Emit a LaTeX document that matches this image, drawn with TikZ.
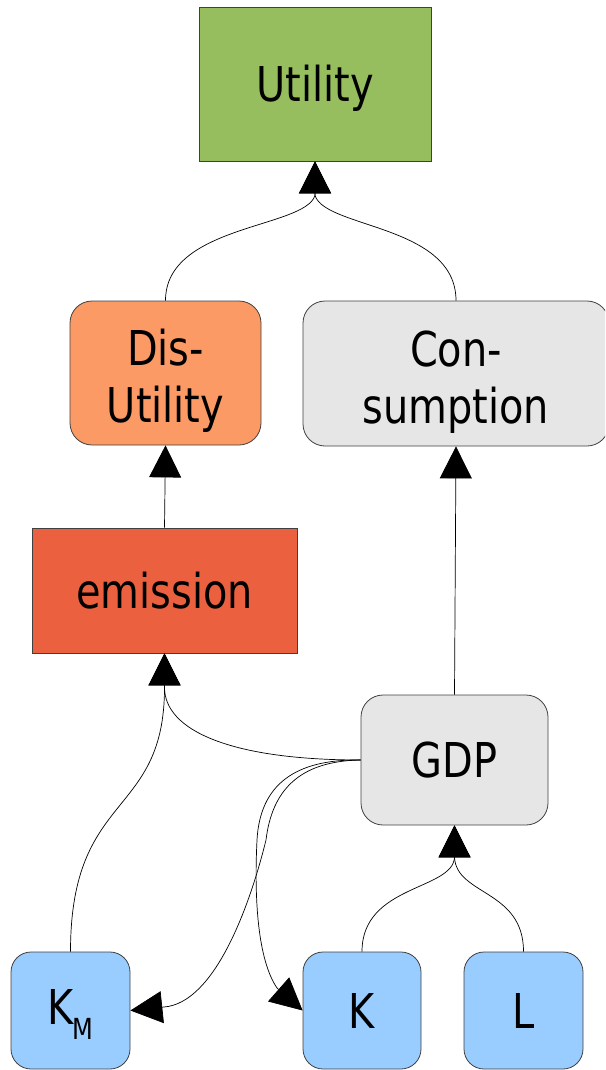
\documentclass[tikz,border=0pt]{standalone}
\usepackage{fontspec}
\setmainfont{DejaVu Sans}[FakeStretch=0.83]
\usetikzlibrary{arrows.meta,calc}
\definecolor{cgreen}{HTML}{97BE5E}
\definecolor{corange}{HTML}{FB9A65}
\definecolor{cred}{HTML}{EB613F}
\definecolor{cgray}{HTML}{E6E6E6}
\definecolor{cblue}{HTML}{99CCFF}
\newcommand{\toppad}{\rule{0pt}{52pt}}
\begin{document}
\begin{tikzpicture}[x=1pt,y=-1pt,
  box/.style={draw=black!75, line width=0.8pt, inner sep=0pt, align=center,
    font=\fontsize{48}{57}\selectfont},
  one/.style={text height=35pt, text depth=0pt},
  rbox/.style={box, rounded corners=22pt},
  wire/.style={line width=0.7pt},
  conn/.style={wire, -{Triangle[length=32pt,width=32pt]}}]
\useasboundingbox (0,0) rectangle (605,1070);
\clip (0,0) rectangle (605,1070);
% nodes
\node[box, one, fill=cgreen, minimum width=232pt, minimum height=154pt] (util) at (315,84) {Utility};
\node[rbox, fill=corange, minimum width=191pt, minimum height=144pt] (dis) at (165.5,373) {\toppad Dis-\\Utility};
\node[rbox, fill=cgray, minimum width=306pt, minimum height=145pt] (cons) at (456,373.5) {\toppad Con-\\sumption};
\node[box, one, fill=cred, minimum width=265pt, minimum height=125pt] (emis) at (164.5,590.5) {emission};
\node[rbox, one, fill=cgray, minimum width=187pt, minimum height=130pt] (gdp) at (454.5,760) {GDP};
\node[rbox, fill=cblue, text height=35pt, text depth=8pt, minimum width=119pt, minimum height=117pt, rounded corners=20pt] (km) at (70.5,1010.5)
  {K\kern-1pt\raisebox{-15pt}{\fontsize{29}{29}\selectfont M}};
\node[rbox, one, fill=cblue, minimum width=118pt, minimum height=117pt, rounded corners=20pt] (k) at (362,1010.5) {K};
\node[rbox, one, fill=cblue, minimum width=119pt, minimum height=117pt, rounded corners=20pt] (l) at (523.5,1010.5) {L};
% helper coordinates
\coordinate (uj) at ([yshift=-34pt]util.south);
\coordinate (ea) at ([yshift=-34pt]emis.south);
\coordinate (gb) at ([yshift=-32pt]gdp.south);
% connectors
\draw[conn] (dis.north) .. controls +(0,-76) and +(-10,33) .. (uj) -- (util.south);
\draw[conn] (cons.north) .. controls +(0,-76) and +(10,33) .. (uj) -- (util.south);
\draw[conn] (emis.north) -- (dis.south);
\draw[conn] (gdp.north) -- (cons.south);
\draw[conn] (gdp.west) .. controls +(-130,0) and +(0,43) .. (ea) -- (emis.south);
\draw[conn] (km.north) .. controls +(0,-162) and +(0,132) .. (ea) -- (emis.south);
\draw[conn] (gdp.west) .. controls +(-61,1) and (272,790) .. (266,840)
  .. controls (250,905) and (215,1003) .. (164,1007) -- (km.east);
\draw[conn] (gdp.west) .. controls +(-66,-1) and (260,785) .. (257,840)
  .. controls (254,900) and (258,960) .. (277,988) -- (k.west);
\draw[conn] (k.north) .. controls +(0,-67) and +(-2,33) .. (gb) -- (gdp.south);
\draw[conn] (l.north) .. controls +(0,-62) and +(2,38) .. (gb) -- (gdp.south);
\end{tikzpicture}
\end{document}
